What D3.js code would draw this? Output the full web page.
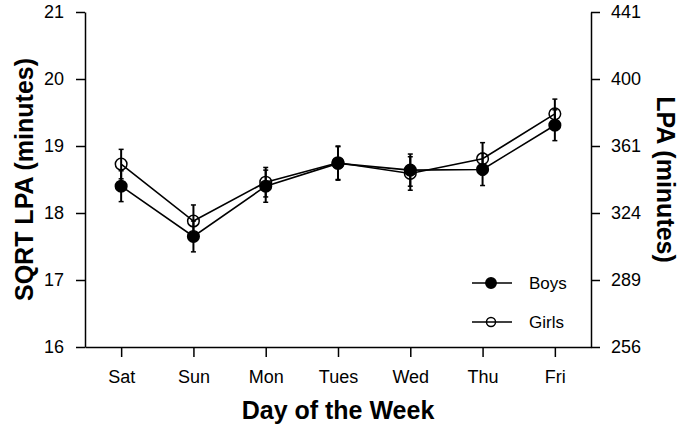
<!DOCTYPE html>
<html><head><meta charset="utf-8">
<script src="https://cdn.jsdelivr.net/npm/d3@7"></script>
<style>body{margin:0;background:#fff} text{font-family:"Liberation Sans",Arial,Helvetica,sans-serif}</style>
</head><body><svg id="c" width="685" height="425"></svg>
<script>
const days = ["Sat","Sun","Mon","Tues","Wed","Thu","Fri"];
const boys = [18.40,17.65,18.40,18.74,18.64,18.65,19.31];
const boysErr = [0.23,0.23,0.24,0.25,0.24,0.24,0.23];
const girls = [18.73,17.88,18.46,18.75,18.59,18.81,19.48];
const girlsErr = [0.22,0.24,0.22,0.25,0.25,0.24,0.22];
const leftTicks = [16,17,18,19,20,21];
const rightTickLabels = ["256","289","324","361","400","441"];

const svg = d3.select("#c");
const L = 85, R = 591, T = 12, B = 347;
const x = d3.scalePoint().domain(days).range([L, R]).padding(0.5);
const y = d3.scaleLinear().domain([16, 21]).range([B, T]);

function styleAxis(g){
  g.selectAll("path.domain").attr("stroke","#000").attr("stroke-width",1.5);
  g.selectAll(".tick line").attr("stroke","#000").attr("stroke-width",1.5);
  g.selectAll(".tick text").attr("fill","#000").style("font-size","18px").style("font-family",'"Liberation Sans",Arial,sans-serif');
}
const gl = svg.append("g").attr("transform",`translate(${L},0)`)
  .call(d3.axisLeft(y).tickValues(leftTicks).tickFormat(d3.format("d")).tickSize(9).tickSizeOuter(0).tickPadding(12));
styleAxis(gl);
const gr = svg.append("g").attr("transform",`translate(${R},0)`)
  .call(d3.axisRight(y).tickValues(leftTicks).tickFormat((d,i)=>rightTickLabels[i]).tickSize(9).tickSizeOuter(0).tickPadding(11));
styleAxis(gr);
const gb = svg.append("g").attr("transform",`translate(0,${B})`)
  .call(d3.axisBottom(x).tickSize(10).tickSizeOuter(0).tickPadding(13));
styleAxis(gb);

// titles
svg.append("text").attr("transform",`translate(33,${(T+B)/2}) rotate(-90)`)
  .attr("text-anchor","middle").style("font-size","25px").style("font-weight","bold").text("SQRT LPA (minutes)");
svg.append("text").attr("transform",`translate(657,${(T+B)/2}) rotate(90)`)
  .attr("text-anchor","middle").style("font-size","25px").style("font-weight","bold").text("LPA (minutes)");
svg.append("text").attr("x",(L+R)/2).attr("y",419)
  .attr("text-anchor","middle").style("font-size","25px").style("font-weight","bold").text("Day of the Week");

const line = d3.line().x((d,i)=>x(days[i])).y(d=>y(d));
const series = [
  {name:"Girls", vals:girls, err:girlsErr, fill:"none"},
  {name:"Boys", vals:boys, err:boysErr, fill:"#000"}
];
series.forEach(s=>{
  const g = svg.append("g");
  g.append("path").attr("d", line(s.vals)).attr("fill","none").attr("stroke","#000").attr("stroke-width",1.6);
  s.vals.forEach((v,i)=>{
    const cx = x(days[i]);
    g.append("line").attr("x1",cx).attr("x2",cx).attr("y1",y(v-s.err[i])).attr("y2",y(v+s.err[i])).attr("stroke","#000").attr("stroke-width",2);
    [v-s.err[i], v+s.err[i]].forEach(e=>{
      g.append("line").attr("x1",cx-2.5).attr("x2",cx+2.5).attr("y1",y(e)).attr("y2",y(e)).attr("stroke","#000").attr("stroke-width",1.5);
    });
  });
  g.selectAll("circle").data(s.vals).join("circle")
    .attr("cx",(d,i)=>x(days[i])).attr("cy",d=>y(d)).attr("r",5.8)
    .attr("fill",s.fill).attr("stroke","#000").attr("stroke-width",1.5);
});

// legend
const leg = [{name:"Boys", fill:"#000", r:5.2, yv:283},{name:"Girls", fill:"none", r:4.5, yv:322}];
leg.forEach(l=>{
  svg.append("line").attr("x1",472).attr("x2",512).attr("y1",l.yv).attr("y2",l.yv).attr("stroke","#000").attr("stroke-width",1.6);
  svg.append("circle").attr("cx",491).attr("cy",l.yv).attr("r",l.r).attr("fill",l.fill).attr("stroke","#000").attr("stroke-width",1.5);
  svg.append("text").attr("x",529).attr("y",l.yv+6).style("font-size","17px").text(l.name);
});
</script></body></html>
